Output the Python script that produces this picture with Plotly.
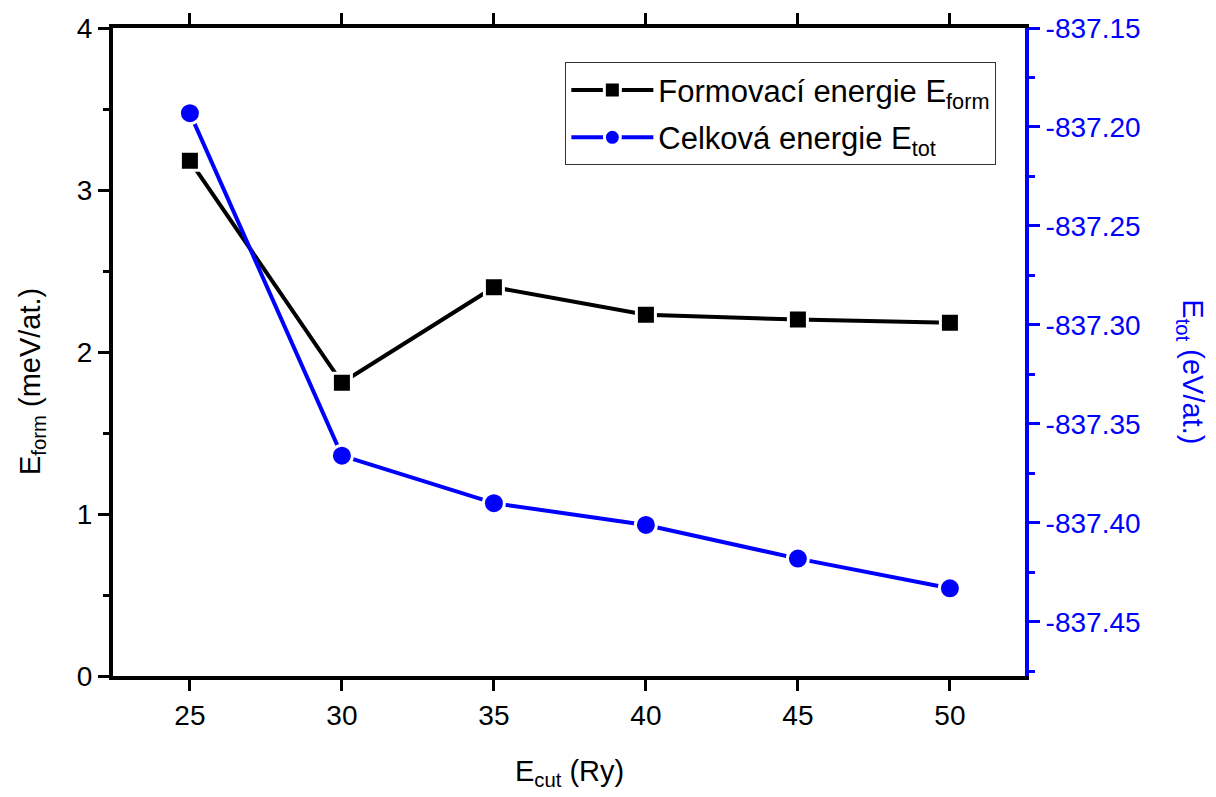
import plotly.graph_objects as go

ecut = [25, 30, 35, 40, 45, 50]
e_form = [3.18, 1.81, 2.40, 2.23, 2.20, 2.18]
e_tot = [-837.193, -837.366, -837.390, -837.401, -837.418, -837.433]

x_ticks = [25, 30, 35, 40, 45, 50]
y_ticks = [0, 1, 2, 3, 4]
y2_ticks = [-837.15, -837.20, -837.25, -837.30, -837.35, -837.40, -837.45]
y2_labels = ["-837.15", "-837.20", "-837.25", "-837.30", "-837.35", "-837.40", "-837.45"]
y2_minor = [-837.175, -837.225, -837.275, -837.325, -837.375, -837.425, -837.475]

FONT = "Liberation Sans, Arial, sans-serif"
BLUE = "#0000ff"
TICK = 28
TITLE = 29

fig = go.Figure()
fig.add_trace(go.Scatter(
    x=ecut, y=e_form, mode="lines+markers",
    name="Formovací energie E<sub>form</sub>",
    legendgroup="a",
    line=dict(color="black", width=4),
    marker=dict(symbol="square", size=19, color="black", line=dict(color="white", width=3)),
))
fig.add_trace(go.Scatter(
    x=ecut, y=e_tot, mode="lines+markers", yaxis="y2",
    name="Celková energie E<sub>tot</sub>",
    legendgroup="b",
    line=dict(color=BLUE, width=4),
    marker=dict(symbol="circle", size=21, color=BLUE, line=dict(color="white", width=3)),
))

fig.update_layout(
    width=1216, height=797,
    margin=dict(l=113, r=191, t=28, b=121),
    plot_bgcolor="white", paper_bgcolor="white",
    font=dict(family=FONT, size=TICK, color="black"),
    showlegend=True,
    legend=dict(
        x=0.496, y=0.947, xanchor="left", yanchor="top",
        bordercolor="#333333", borderwidth=1, bgcolor="white",
        font=dict(family=FONT, size=31, color="black"),
        itemwidth=82, traceorder="grouped", tracegroupgap=4,
    ),
    xaxis=dict(
        range=[22.47, 52.47], tickvals=x_ticks, ticktext=[str(v) for v in x_ticks],
        showline=True, linecolor="black", linewidth=4, mirror="ticks",
        ticks="outside", ticklen=11, tickwidth=3, tickcolor="black",
        showgrid=False, zeroline=False,
        tickfont=dict(size=TICK),
    ),
    yaxis=dict(
        range=[0, 4], tickvals=y_ticks, ticktext=[str(v) for v in y_ticks],
        showline=True, linecolor="black", linewidth=4,
        ticks="outside", ticklen=11, tickwidth=3, tickcolor="black",
        minor=dict(ticks="outside", ticklen=6, tickwidth=3, tickcolor="black", dtick=0.5),
        showgrid=False, zeroline=False,
        tickfont=dict(size=TICK),
    ),
    yaxis2=dict(
        overlaying="y", side="right", anchor="x",
        range=[-837.4773, -837.15], tickvals=y2_ticks, ticktext=y2_labels,
        showline=True, linecolor=BLUE, linewidth=4,
        ticks="outside", ticklen=11, tickwidth=3, tickcolor=BLUE,
        minor=dict(ticks="outside", ticklen=6, tickwidth=3, tickcolor=BLUE, tickvals=y2_minor),
        showgrid=False, zeroline=False,
        tickfont=dict(size=TICK, color=BLUE),
    ),
    annotations=[
        dict(text="E<sub>cut</sub> (Ry)", xref="paper", yref="paper", x=0.5, y=-0.15,
             xanchor="center", yanchor="middle", showarrow=False,
             font=dict(size=TITLE, color="black")),
        dict(text="E<sub>form</sub> (meV/at.)", xref="paper", yref="paper", x=-0.089, y=0.455,
             xanchor="center", yanchor="middle", showarrow=False, textangle=-90,
             font=dict(size=TITLE, color="black")),
        dict(text="E<sub>tot</sub> (eV/at.)", xref="paper", yref="paper", x=1.181, y=0.47,
             xanchor="center", yanchor="middle", showarrow=False, textangle=90,
             font=dict(size=TITLE, color=BLUE)),
    ],
)

fig.write_html("out.html")
